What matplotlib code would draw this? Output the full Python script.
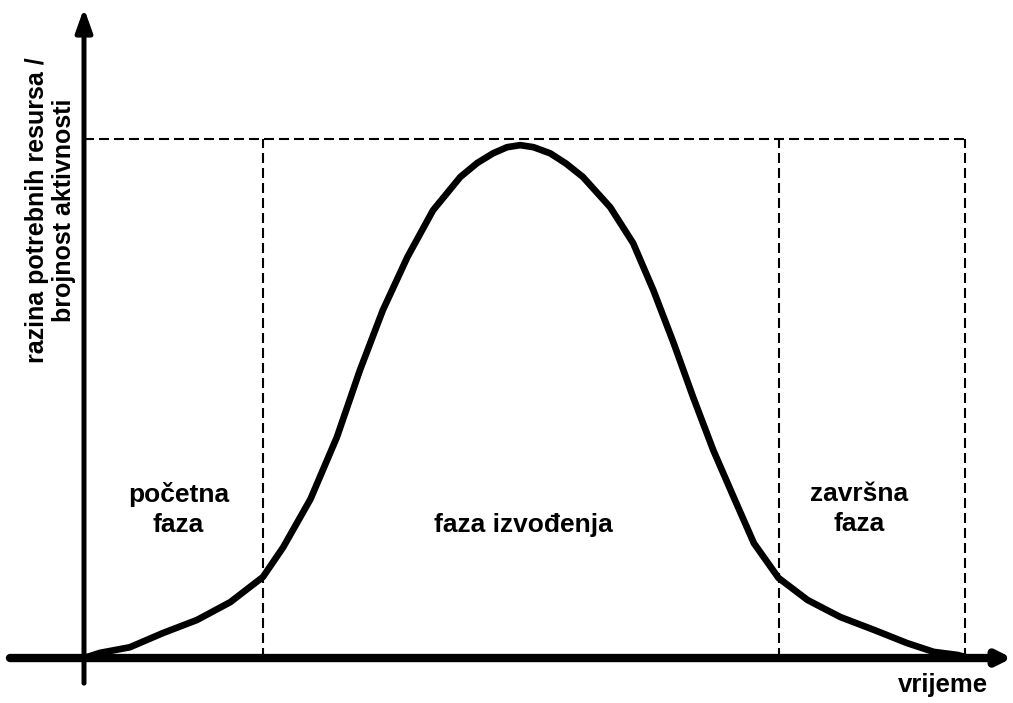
import matplotlib
matplotlib.use("Agg")
import matplotlib.pyplot as plt

# curve: time (% of project length) vs resource level (% of peak)
time_pct = [0, 1.8, 5.2, 9.0, 12.8, 16.6, 20.3, 22.6, 25.7, 28.7, 31.3, 33.9,
            36.7, 39.6, 42.7, 44.6, 46.4, 48.0, 49.5, 51.0, 52.9, 54.7, 56.6,
            59.7, 62.3, 64.6, 66.9, 69.1, 71.4, 73.7, 76.0, 78.8, 82.1, 85.8,
            89.6, 93.4, 96.4, 99.1, 100]
level_pct = [0, 1.0, 2.1, 4.9, 7.4, 10.9, 15.8, 21.6, 31.0, 43.1, 56.1, 67.8,
             78.2, 87.3, 93.8, 96.5, 98.4, 99.6, 100, 99.6, 98.4, 96.4, 93.8,
             87.9, 80.9, 71.7, 61.4, 50.9, 40.5, 31.4, 22.4, 15.6, 11.3, 8.0,
             5.5, 2.9, 1.2, 0.6, 0.2]

phase_bounds = [20.3, 78.8, 100]
phase_labels = ["početna\nfaza", "faza izvođenja", "završna\nfaza"]
phase_label_x = [10.7, 49.8, 87.9]
phase_label_y = [29.0, 25.9, 29.0]
guide_level = 101.2

ylabel = "razina potrebnih resursa /\nbrojnost aktivnosti"
xlabel = "vrijeme"

plt.rcParams["font.family"] = ["Liberation Sans", "DejaVu Sans"]

fig = plt.figure(figsize=(10.13, 7.03), dpi=100)
ax = fig.add_axes([0, 0, 1, 1])
ax.set_xlim(-9.53, 105.4)
ax.set_ylim(-8.77, 128.3)
ax.axis("off")

# dashed guides
dash = (0, (4.8, 2.4))
ax.plot([0, phase_bounds[-1]], [guide_level, guide_level], color="black", lw=1.5, ls=dash)
for xb in phase_bounds:
    ax.plot([xb, xb], [0, guide_level], color="black", lw=1.5, ls=dash)

# axes with arrows
ax.annotate("", xy=(105.3, 0), xytext=(-8.4, 0),
            arrowprops=dict(arrowstyle="-|>,head_length=0.8,head_width=0.4",
                            lw=6, color="black", shrinkA=0, shrinkB=0))
ax.annotate("", xy=(0, 126.7), xytext=(0, -4.9),
            arrowprops=dict(arrowstyle="-|>,head_length=1.4,head_width=0.5",
                            lw=3.6, color="black", shrinkA=0, shrinkB=0))

ax.plot(time_pct, level_pct, color="black", lw=4.8, solid_joinstyle="round",
        solid_capstyle="round")

for lx, ly, lab in zip(phase_label_x, phase_label_y, phase_labels):
    ax.text(lx, ly, lab, ha="center", va="center", fontsize=19,
            fontweight="bold", linespacing=1.3)

ax.text(-3.8, 87.3, ylabel, rotation=90, ha="center", va="center",
        fontsize=18, fontweight="bold", linespacing=1.2)
ax.text(102.6, -5.3, xlabel, ha="right", va="center", fontsize=18.5,
        fontweight="bold")

fig.savefig("out.png", dpi=100)
